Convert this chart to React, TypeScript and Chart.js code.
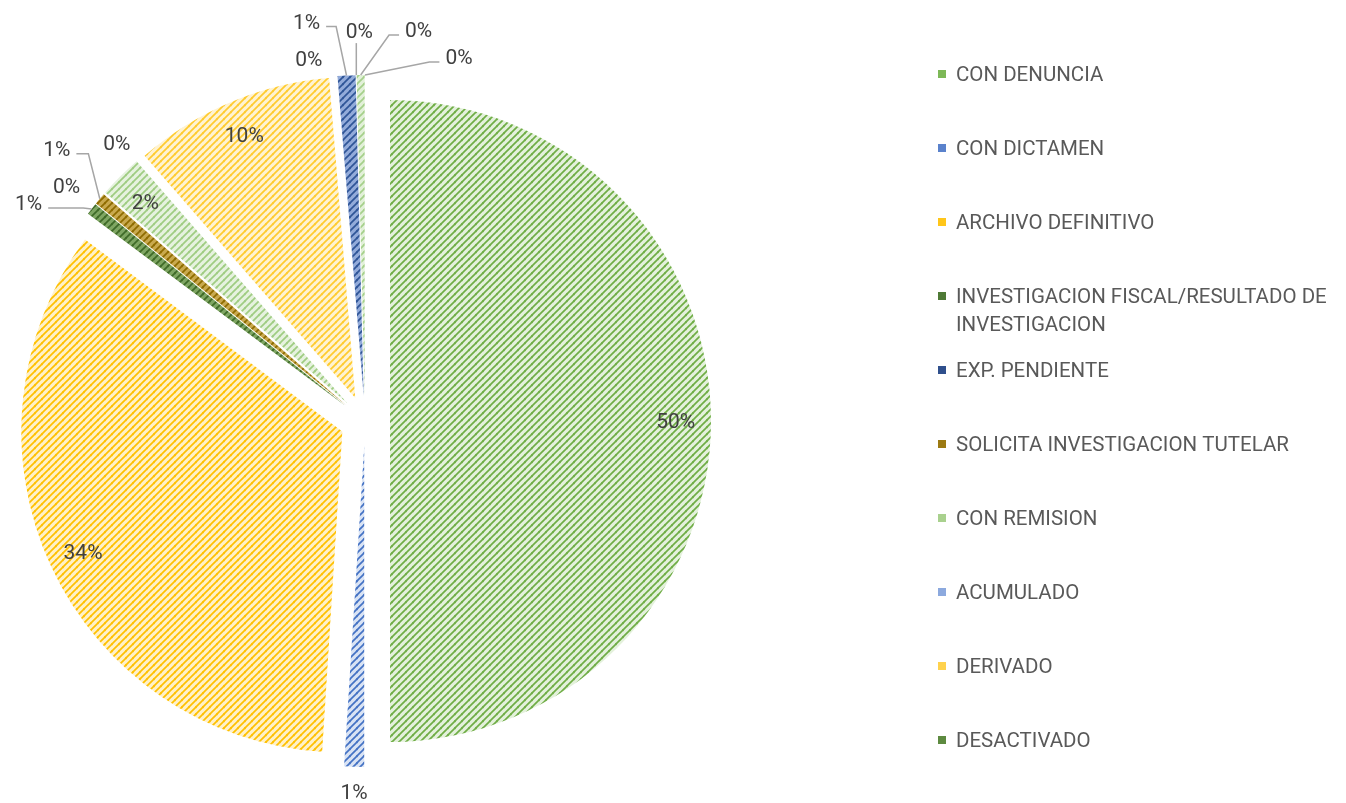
import React, { useEffect, useRef } from 'react';
import { Chart, registerables } from 'chart.js';

Chart.register(...registerables);

// ---------- data ----------
const categories: string[] = [
  'CON DENUNCIA',
  'CON DICTAMEN',
  'ARCHIVO DEFINITIVO',
  'INVESTIGACION FISCAL/RESULTADO DE INVESTIGACION',
  'EXP. PENDIENTE',
  'SOLICITA INVESTIGACION TUTELAR',
  'CON REMISION',
  'ACUMULADO',
  'DERIVADO',
  'DESACTIVADO',
  '',
  '',
  '',
  '',
];

const counts: number[] = [500, 10, 342, 6, 0, 6, 22, 0, 101, 0, 9, 0, 4, 0];

// number of categories shown in the legend
const legendCount = 10;

// ---------- styles ----------
const lineColors: string[] = [
  '#6FAD45', '#4472C4', '#FFC000', '#3F6A28', '#22417A', '#8E6B00',
  '#9FCC82', '#7F9FD8', '#FFCB2E', '#4D7A30', '#2F5597', '#A07A00',
  '#A5D08A', '#8FAADC',
];
const fillColors: string[] = [
  '#E4F1DC', '#D9E3F4', '#FFF1C9', '#7FA663', '#7D96C6', '#C9A94E',
  '#E6F2DF', '#E2EAF7', '#FFF3D2', '#9CC283', '#93ABDA', '#D9BC63',
  '#E2F0D9', '#E2EAF7',
];
const markerColors: string[] = [
  '#7DB857', '#5A82CC', '#FFC61A', '#4F7A36', '#2F4F8C', '#9C7A12',
  '#A9D18E', '#8CA9DE', '#FFD24D', '#5D8A40', '#3A62A8', '#B08A10',
  '#A9D18E', '#8FAADC',
];

// label placement: 'in' = inside slice, otherwise [dx, dy, leader]
// (offset from slice outer mid-point; leader: 0 none, -1 vertical, >0 elbow length)
const labelPlacement: ('in' | [number, number, number])[] = [
  'in',
  [0, 25, 0],
  'in',
  [-63, -6, 35],
  [-29, -18, 0],
  [-43, -50, 12],
  'in',
  [-21, -17, 0],
  'in',
  [-28, -18, 0],
  [-40, -54, 10],
  [3, -45, -1],
  [58, -45, 10],
  [94, -18, 10],
];

const W = 1346;
const H = 803;
const EXPLODE = 25;
const RADIUS = 321;
const LABEL_SIZE = 21;
const LEGEND_SIZE = 20.5;
const FONT_FAMILY = 'Roboto';
const CAP = 0.711;
const LEGEND_X = 938;
const LEGEND_TEXT_X = 956;
const LEGEND_Y = 74;
const LEGEND_STEP = 74;
const LEGEND_LINE = 28;
const LEGEND_MAXW = 388;

function makeHatch(bg: string, fg: string): CanvasPattern | string {
  const s = 7;
  const c = document.createElement('canvas');
  c.width = s;
  c.height = s;
  const x = c.getContext('2d');
  if (!x) return bg;
  x.fillStyle = bg;
  x.fillRect(0, 0, s, s);
  x.strokeStyle = fg;
  x.lineWidth = 1.7;
  const shifts = [[0, 0], [-s, 0], [s, 0], [0, -s], [0, s]];
  for (const [ox, oy] of shifts) {
    x.beginPath();
    x.moveTo(ox - 1, oy + s + 1);
    x.lineTo(ox + s + 1, oy - 1);
    x.stroke();
  }
  return x.createPattern(c, 'repeat') || bg;
}

const explodePlugin = {
  id: 'explode',
  beforeDatasetsDraw(chart: any) {
    const meta = chart.getDatasetMeta(0);
    const ca = chart.chartArea;
    const cx = (ca.left + ca.right) / 2;
    const cy = (ca.top + ca.bottom) / 2;
    meta.data.forEach((arc: any) => {
      const mid = (arc.startAngle + arc.endAngle) / 2;
      arc.x = cx + Math.cos(mid) * EXPLODE;
      arc.y = cy + Math.sin(mid) * EXPLODE;
    });
  },
};

const labelPlugin = {
  id: 'pieLabels',
  afterDatasetsDraw(chart: any) {
    const ctx: CanvasRenderingContext2D = chart.ctx;
    const meta = chart.getDatasetMeta(0);
    const values: number[] = chart.data.datasets[0].data;
    const total = values.reduce((a, b) => a + b, 0);
    ctx.save();
    ctx.font = `${LABEL_SIZE}px ${FONT_FAMILY}`;
    ctx.textAlign = 'center';
    ctx.textBaseline = 'alphabetic';
    meta.data.forEach((arc: any, i: number) => {
      const mid = (arc.startAngle + arc.endAngle) / 2;
      const txt = Math.round((values[i] / total) * 100) + '%';
      const p = labelPlacement[i];
      const r = arc.outerRadius;
      let lx: number;
      let ly: number;
      if (p === 'in') {
        lx = arc.x + Math.cos(mid) * r * 0.89;
        ly = arc.y + Math.sin(mid) * r * 0.89;
      } else {
        const ax = arc.x + Math.cos(mid) * r;
        const ay = arc.y + Math.sin(mid) * r;
        lx = ax + p[0];
        ly = ay + p[1];
        const e = p[2];
        if (e !== 0) {
          ctx.strokeStyle = '#A6A6A6';
          ctx.lineWidth = 1.5;
          ctx.beginPath();
          if (e < 0) {
            ctx.moveTo(ax, ly + 13);
            ctx.lineTo(ax, ay);
          } else {
            const w = ctx.measureText(txt).width;
            const left = lx < ax;
            const sx = left ? lx + w / 2 + 6 : lx - w / 2 - 6;
            const sy = ly + 5;
            const ex = left ? sx + e : sx - e;
            ctx.moveTo(sx, sy);
            ctx.lineTo(ex, sy);
            ctx.lineTo(ax, ay);
          }
          ctx.stroke();
        }
      }
      ctx.fillStyle = '#404040';
      ctx.fillText(txt, lx, ly + (CAP * LABEL_SIZE) / 2);
    });
    ctx.restore();
  },
};

const legendPlugin = {
  id: 'sideLegend',
  afterDraw(chart: any) {
    const ctx: CanvasRenderingContext2D = chart.ctx;
    const labels: string[] = chart.data.labels;
    ctx.save();
    ctx.font = `${LEGEND_SIZE}px ${FONT_FAMILY}`;
    ctx.textAlign = 'left';
    ctx.textBaseline = 'alphabetic';
    for (let i = 0; i < legendCount; i++) {
      const y = LEGEND_Y + LEGEND_STEP * i;
      ctx.fillStyle = markerColors[i];
      ctx.fillRect(LEGEND_X, y - 4, 8, 8);
      const words = labels[i].split(' ');
      const lines: string[] = [];
      let cur = '';
      for (const w of words) {
        const t = cur ? cur + ' ' + w : w;
        if (cur && ctx.measureText(t).width > LEGEND_MAXW) {
          lines.push(cur);
          cur = w;
        } else {
          cur = t;
        }
      }
      if (cur) lines.push(cur);
      ctx.fillStyle = '#595959';
      lines.forEach((ln, k) =>
        ctx.fillText(ln, LEGEND_TEXT_X, y + k * LEGEND_LINE + (CAP * LEGEND_SIZE) / 2)
      );
    }
    ctx.restore();
  },
};

export default function App() {
  const ref = useRef<HTMLCanvasElement | null>(null);
  useEffect(() => {
    if (!ref.current) return;
    const patterns = counts.map((_, i) => makeHatch(fillColors[i], lineColors[i]));
    const chart = new Chart(ref.current, {
      type: 'pie',
      data: {
        labels: categories,
        datasets: [
          {
            data: counts,
            backgroundColor: patterns as any,
            borderWidth: 0,
            radius: RADIUS,
            hoverOffset: 0,
          } as any,
        ],
      },
      options: {
        responsive: false,
        animation: false,
        events: [],
        layout: { padding: { left: 0, right: W - 730, top: 39, bottom: 0 } },
        plugins: {
          legend: { display: false },
          tooltip: { enabled: false },
        },
      },
      plugins: [explodePlugin, labelPlugin, legendPlugin],
    });
    return () => chart.destroy();
  }, []);
  return (
    <div style={{ position: 'absolute', left: 0, top: 0, width: W, height: H, background: '#fff' }}>
      <canvas ref={ref} width={W} height={H} style={{ display: 'block' }} />
    </div>
  );
}
